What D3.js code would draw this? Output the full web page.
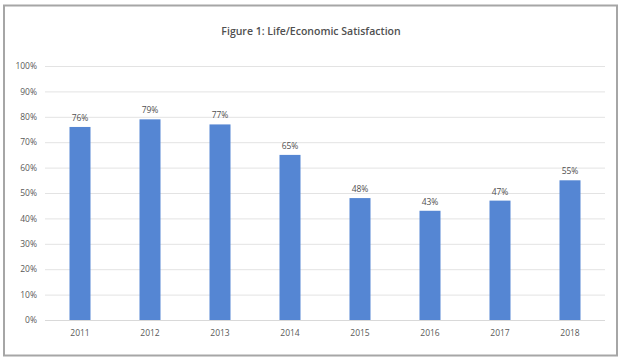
<!DOCTYPE html>
<html><head><meta charset="utf-8">
<script src="https://cdn.jsdelivr.net/npm/d3@7"></script>
<style>body{margin:0;background:#fff}svg{display:block}</style>
</head><body>
<svg id="c" width="624" height="364"></svg>
<script>
const years = ["2011","2012","2013","2014","2015","2016","2017","2018"];
const values = [76, 79, 77, 65, 48, 43, 47, 55];
const yTicks = [0,10,20,30,40,50,60,70,80,90,100];
const title = "Figure 1: Life/Economic Satisfaction";

const svg = d3.select("#c");
const font = "'Open Sans', 'Liberation Sans', sans-serif";

// frame
svg.append("rect").attr("x",4).attr("y",5.5).attr("width",613).attr("height",350)
  .attr("fill","#fff").attr("stroke","#a6a6a6").attr("stroke-width",2);

const x = d3.scaleBand().domain(years).range([45,605]).paddingInner(0.7).paddingOuter(0.35);
const y = d3.scaleLinear().domain([0,100]).range([320,66]);

svg.append("text").attr("x",311).attr("y",35).attr("text-anchor","middle")
  .attr("font-family",font).attr("font-size",10.5).attr("font-weight",600).attr("fill","#505050")
  .text(title);

const yAxis = svg.append("g").attr("transform","translate(45,0)")
  .call(d3.axisLeft(y).tickValues(yTicks).tickFormat(d=>d+"%").tickSize(-560).tickPadding(8));
yAxis.select(".domain").remove();
yAxis.selectAll(".tick line").attr("stroke","#e3e3e3").attr("stroke-width",1);
yAxis.selectAll(".tick text").attr("font-family",font).attr("font-size",8.5).attr("fill","#595959");

svg.selectAll("rect.bar").data(values).join("rect").attr("class","bar")
  .attr("x",(d,i)=>x(years[i])).attr("width",x.bandwidth())
  .attr("y",d=>y(d)).attr("height",d=>y(0)-y(d)).attr("fill","#5586d3");

svg.append("line").attr("x1",45).attr("x2",605).attr("y1",y(0)+0.5).attr("y2",y(0)+0.5)
  .attr("stroke","#d9d9d9");

svg.selectAll("text.val").data(values).join("text").attr("class","val")
  .attr("x",(d,i)=>x(years[i])+x.bandwidth()/2).attr("y",d=>y(d)-6)
  .attr("text-anchor","middle").attr("font-family",font).attr("font-size",8.5).attr("fill","#505050")
  .text(d=>d+"%");

const xAxis = svg.append("g").attr("transform","translate(0,320)")
  .call(d3.axisBottom(x).tickSize(0).tickPadding(10));
xAxis.select(".domain").remove();
xAxis.selectAll(".tick text").attr("font-family",font).attr("font-size",8.5).attr("fill","#595959");
</script>
</body></html>
